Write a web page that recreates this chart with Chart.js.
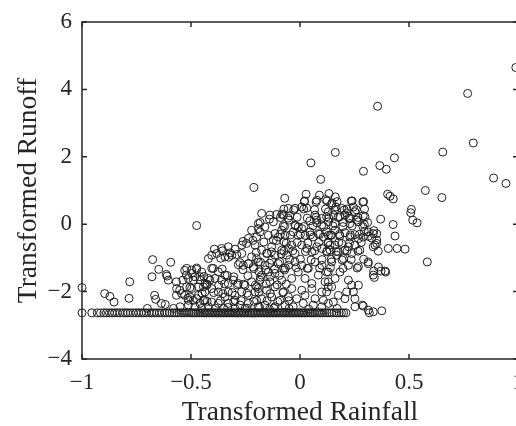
<!DOCTYPE html>
<html>
<head>
<meta charset="utf-8">
<script src="https://cdn.jsdelivr.net/npm/chart.js@4.4.1/dist/chart.umd.min.js"></script>
<style>
  html, body { margin: 0; padding: 0; background: #fff; overflow: hidden; }
  #wrap { width: 530px; height: 426px; }
</style>
</head>
<body>
<div id="wrap"><canvas id="scatter" width="530" height="426"></canvas></div>
<script>
// axis ranges and ticks
const xTicks = [-1, -0.5, 0, 0.5, 1];
const yTicks = [-4, -2, 0, 2, 4, 6];

// points, [rainfall, runoff]
const highPoints = [
  [0.99, 4.65], [0.769, 3.88], [0.356, 3.50], [0.795, 2.41], [0.655, 2.14], [0.162, 2.13],
  [0.433, 1.97], [0.05, 1.82], [0.366, 1.74], [0.396, 1.63], [0.291, 1.57], [0.095, 1.33],
  [0.888, 1.37], [0.945, 1.21], [-0.211, 1.09], [0.575, 1.00]
];

const upperPoints = [
  [0.651, 0.79], [-0.07, 0.77], [0.402, 0.89], [0.413, 0.83], [0.428, 0.75], [0.292, 0.67],
  [0.028, 0.89], [0.02, 0.67], [0.089, 0.86], [0.133, 0.91], [0.162, 0.81], [0.077, 0.71],
  [0.118, 0.73], [0.147, 0.63], [0.239, 0.69], [0.511, 0.44], [0.508, 0.34], [0.145, 0.58],
  [0.165, 0.51], [0.191, 0.47], [0.203, 0.42], [0.245, 0.51], [0.252, 0.37], [0.13, 0.37],
  [-0.176, 0.32], [-0.138, 0.27], [-0.107, 0.29], [-0.076, 0.27], [-0.054, 0.47], [-0.023, 0.47],
  [0.008, 0.51], [0.031, 0.48], [0.069, 0.27], [0.099, 0.17], [0.122, 0.22], [0.153, 0.27],
  [0.183, 0.22], [0.206, 0.27], [0.229, 0.17], [0.298, 0.22], [0.517, 0.12], [0.537, 0.04],
  [0.37, 0.15], [-0.083, 0.30], [-0.047, 0.25], [0.29, 0.25], [0.214, 0.33]
];

const zeroPoints = [
  [-0.191, 0.02], [-0.161, -0.08], [-0.183, 0.05], [-0.122, 0.07], [-0.077, -0.05], [-0.023, -0.03],
  [-0.008, -0.08], [0.008, -0.13], [0.077, 0.12], [0.077, 0.04], [0.1, -0.02], [0.13, 0.07],
  [0.16, 0.02], [0.199, 0.05], [0.229, 0.02], [0.268, 0.07], [0.295, -0.01], [0.427, -0.01],
  [0.045, 0.1], [-0.05, 0.12], [-0.14, 0.15], [0.26, 0.12], [0.31, 0.05], [-0.474, -0.04]
];

const midPoints = [
  [-0.183, -0.23], [-0.145, -0.33], [-0.115, -0.28], [-0.1, -0.38], [-0.122, -0.47], [-0.084, -0.18],
  [-0.069, -0.33], [-0.031, -0.23], [-0.008, -0.33], [0.023, -0.33], [0.046, -0.23], [0.061, -0.38],
  [0.084, -0.28], [0.107, -0.38], [0.13, -0.33], [-0.206, -0.62], [-0.176, -0.77], [-0.153, -0.87],
  [-0.13, -0.67], [-0.115, -0.92], [-0.084, -0.77], [-0.053, -0.72], [-0.038, -0.62], [-0.061, -0.92],
  [-0.023, -0.87], [0.008, -0.62], [0.031, -0.72], [0.054, -0.82], [0.077, -0.67], [0.1, -0.72],
  [0.122, -0.82], [0.138, -0.62], [0.122, -0.23], [0.145, -0.33], [0.161, -0.18], [0.183, -0.35],
  [0.206, -0.25], [0.229, -0.38], [0.252, -0.31], [0.268, -0.43], [0.13, -0.53], [0.161, -0.62],
  [0.191, -0.57], [0.222, -0.67], [0.252, -0.62], [0.275, -0.77], [0.138, -0.77], [0.176, -0.82],
  [0.206, -0.77], [0.237, -0.87], [0.339, -0.19], [0.352, -0.28], [0.313, -0.36], [0.329, -0.41],
  [0.295, -0.21], [0.436, -0.35], [0.313, -0.23], [0.336, -0.28], [0.29, -0.38], [0.352, -0.47],
  [0.352, -0.57], [0.344, -0.62], [0.359, -0.80], [0.405, -0.72], [0.445, -0.72], [0.482, -0.74],
  [0.336, -0.67], [-0.393, -0.74], [-0.359, -0.72], [-0.329, -0.67], [-0.298, -0.74], [-0.267, -0.62],
  [-0.245, -0.57], [-0.222, -0.18], [-0.199, -0.38], [-0.191, -0.13], [-0.237, -0.42], [-0.405, -0.92],
  [-0.344, -0.97], [-0.313, -0.92], [-0.29, -0.90], [-0.267, -0.87], [-0.222, -0.97], [-0.382, -0.87],
  [-0.355, -0.79], [-0.321, -0.85], [-0.42, -1.02]
];

// densest part of the cloud, read from close-ups
const corePoints = [
  [-0.261, -0.51], [-0.216, -0.48], [-0.166, -0.53], [-0.108, -0.49], [-0.074, -0.52],
  [-0.201, -0.84], [-0.151, -0.86], [-0.131, -0.82], [-0.086, -0.88],
  [-0.364, -1.01], [-0.327, -0.98], [-0.276, -1.14], [-0.235, -1.17], [-0.181, -1.13],
  [-0.139, -1.16], [-0.093, -1.12], [-0.357, -1.33], [-0.262, -1.35], [-0.212, -1.32],
  [-0.158, -1.36], [-0.117, -1.33], [-0.071, -1.36], [-0.441, -1.55], [-0.334, -1.52],
  [-0.304, -1.56], [-0.239, -1.53], [-0.181, -1.57], [-0.136, -1.55], [-0.094, -1.52],
  [-0.426, -1.78], [-0.373, -1.81], [-0.346, -1.77], [-0.288, -1.8], [-0.258, -1.78],
  [-0.204, -1.81], [-0.155, -1.77], [-0.105, -1.8], [-0.063, -1.78], [-0.449, -2.05],
  [-0.396, -2.03], [-0.354, -2.06], [-0.311, -2.03], [-0.243, -2.05], [-0.189, -2.02],
  [-0.136, -2.06], [-0.078, -2.03], [-0.426, -2.29], [-0.365, -2.27], [-0.304, -2.3],
  [-0.27, -2.27], [-0.212, -2.29], [-0.151, -2.27], [-0.102, -2.3], [-0.052, -2.27],
  [-0.388, -2.49], [-0.331, -2.47], [-0.243, -2.49], [-0.185, -2.47], [-0.12, -2.49],
  [0.021, 0.69], [0.074, 0.66], [0.124, 0.69], [0.17, 0.67], [0.235, 0.69], [0.288, 0.66],
  [-0.074, 0.45], [-0.029, 0.42], [0.017, 0.45], [0.067, 0.43], [0.117, 0.45], [0.159, 0.42],
  [0.216, 0.45], [0.258, 0.43], [0.296, 0.45], [-0.09, 0.2], [-0.055, 0.18], [-0.013, 0.21],
  [0.033, 0.18], [0.074, 0.2], [0.132, 0.18], [0.174, 0.2], [0.224, 0.18], [0.266, 0.2],
  [-0.071, -0.07], [-0.021, -0.05], [0.017, -0.07], [0.059, -0.05], [0.109, -0.07],
  [0.151, -0.05], [0.197, -0.07], [0.239, -0.05], [0.288, -0.07], [-0.09, -0.3],
  [-0.044, -0.32], [0.002, -0.3], [0.048, -0.32], [0.09, -0.3], [0.14, -0.32], [0.181, -0.3],
  [0.231, -0.32], [0.273, -0.3], [-0.063, -0.56], [-0.013, -0.54], [0.036, -0.56],
  [0.086, -0.54], [0.128, -0.56], [0.178, -0.54], [0.227, -0.56], [0.281, -0.54],
  [-0.074, -0.8], [-0.033, -0.79], [0.025, -0.81], [0.067, -0.79], [0.124, -0.8],
  [0.166, -0.81], [0.216, -0.79], [0.266, -0.8], [-0.048, -1.05], [0.002, -1.04],
  [0.051, -1.06], [0.101, -1.05], [0.143, -1.04], [0.193, -1.06], [0.235, -1.05],
  [0.292, -1.04], [-0.067, -1.3], [-0.017, -1.29], [0.033, -1.31], [0.09, -1.3],
  [0.14, -1.29], [0.197, -1.31], [0.262, -1.3]
];

const lowPoints = [
  [-0.191, -1.12], [-0.161, -1.22], [-0.13, -1.07], [-0.1, -1.17], [-0.145, -1.42], [-0.176, -1.51],
  [-0.115, -1.46], [-0.076, -1.31], [-0.053, -1.22], [-0.023, -1.12], [0.008, -1.22], [-0.008, -1.42],
  [0.038, -1.31], [0.069, -1.12], [0.1, -1.22], [0.122, -1.42], [0.084, -1.51], [0.023, -1.61],
  [-0.038, -1.61], [-0.084, -1.66], [-0.138, -1.71], [-0.183, -1.66], [0.054, -1.76], [0.115, -1.71],
  [0.168, -0.92], [0.199, -1.02], [0.145, -1.12], [0.13, -1.42], [0.183, -1.42], [0.268, -1.26],
  [0.222, -1.22], [0.161, -1.61], [0.13, -1.71], [0.222, -1.66], [0.313, -1.12], [0.36, -1.27],
  [0.39, -1.39], [0.336, -1.51], [0.338, -1.39], [0.372, -1.39], [0.393, -1.42], [0.341, -1.58],
  [0.584, -1.12], [0.313, -1.17], [-0.283, -1.20], [-0.260, -1.22], [-0.237, -1.17], [-0.214, -1.27],
  [-0.199, -1.02], [-0.188, -1.41], [-0.398, -1.31], [-0.375, -1.41], [-0.36, -1.66], [-0.39, -1.61],
  [-0.344, -1.51], [-0.329, -1.76], [-0.306, -1.66], [-0.283, -1.76], [-0.252, -1.81], [-0.222, -1.71],
  [-0.52, -1.31], [-0.497, -1.36], [-0.474, -1.30], [-0.451, -1.42], [-0.482, -1.56], [-0.512, -1.61],
  [-0.459, -1.66], [-0.436, -1.76], [-0.42, -1.61], [-0.676, -1.05], [-0.593, -1.13], [-0.648, -1.34],
  [-0.613, -1.49], [-0.679, -1.56], [-0.781, -1.71], [-0.567, -1.71], [-0.537, -1.66], [-0.521, -1.51],
  [-0.529, -1.37], [-0.61, -1.54], [-0.604, -1.66], [-0.497, -1.46], [-0.474, -1.34], [-0.459, -1.56],
  [-0.489, -1.66], [-0.405, -1.31], [-0.413, -1.66]
];

const bottomPoints = [
  [-0.191, -1.91], [-0.153, -1.96], [-0.115, -1.86], [-0.076, -2.01], [-0.038, -1.91], [0.008, -1.96],
  [0.054, -1.91], [0.1, -2.01], [0.13, -1.86], [-0.176, -2.21], [-0.13, -2.16], [-0.092, -2.26],
  [-0.053, -2.16], [-0.015, -2.21], [0.023, -2.11], [0.069, -2.21], [0.107, -2.26], [-0.161, -2.40],
  [-0.115, -2.45], [-0.069, -2.40], [-0.031, -2.45], [0.015, -2.35], [0.061, -2.40], [0.1, -2.45],
  [0.13, -2.35], [0.145, -1.86], [0.122, -2.01], [0.237, -1.81], [0.214, -2.01], [0.252, -2.21],
  [0.206, -2.21], [0.176, -2.11], [0.153, -2.31], [0.245, -2.01], [0.268, -1.81], [0.286, -2.40],
  [0.313, -2.55], [0.336, -2.60], [0.375, -2.57], [0.252, -2.45], [0.318, -2.63], [0.29, -2.43],
  [-0.268, -2.01], [-0.237, -2.11], [-0.206, -2.01], [-0.329, -2.01], [-0.298, -2.11], [-0.375, -2.01],
  [-0.344, -2.16], [-0.405, -1.91], [-0.436, -2.01], [-0.466, -1.86], [-0.497, -1.91], [-0.52, -1.86],
  [-0.528, -2.11], [-0.505, -2.16], [-0.474, -2.21], [-0.436, -2.26], [-0.405, -2.31], [-0.375, -2.35],
  [-0.329, -2.35], [-0.298, -2.26], [-0.275, -2.40], [-0.237, -2.35], [-0.199, -2.26], [-0.191, -2.45],
  [-0.512, -2.40], [-0.482, -2.45], [-0.451, -2.50], [-0.298, -2.50], [-0.252, -2.50], [-0.199, -1.86],
  [-1.0, -1.88], [-0.896, -2.06], [-0.872, -2.14], [-0.853, -2.31], [-0.784, -2.2], [-0.667, -2.11],
  [-0.662, -2.23], [-0.636, -2.35], [-0.618, -2.38], [-0.567, -2.11], [-0.552, -1.96], [-0.514, -2.2],
  [-0.566, -1.91], [-0.543, -2.06], [-0.505, -1.88], [-0.466, -2.11], [-0.443, -1.86], [-0.443, -2.26],
  [-0.459, -2.35], [-0.489, -2.26], [-0.512, -2.26], [-0.428, -1.81], [-0.70, -2.5], [-0.58, -2.5],
  [-0.55, -2.45], [-0.42, -2.45], [-0.35, -2.5], [-0.14, -2.52], [-0.05, -2.5], [0.04, -2.52], [0.17, -2.5]
];

// the flat row of censored values along the bottom
const floorRunoff = -2.63;
const floorRainfall = [
  -1.0, -0.955, -0.93, -0.915, -0.9, -0.888, -0.874, -0.862, -0.85, -0.838, -0.826, -0.812,
  -0.8, -0.79, -0.778, -0.765, -0.752, -0.74, -0.728, -0.716, -0.705, -0.692, -0.68, -0.669,
  -0.657, -0.645, -0.633, -0.62, -0.61, -0.598, -0.587, -0.576, -0.565, -0.555, -0.545, -0.536,
  -0.527, -0.518, -0.509, -0.5, -0.492, -0.484, -0.476, -0.468, -0.46, -0.452, -0.444, -0.437,
  -0.43, -0.422, -0.415, -0.408, -0.4, -0.393, -0.386, -0.379, -0.372, -0.365, -0.358, -0.351,
  -0.344, -0.337, -0.33, -0.323, -0.316, -0.309, -0.302, -0.295, -0.288, -0.281, -0.274, -0.267,
  -0.26, -0.253, -0.246, -0.239, -0.232, -0.225, -0.218, -0.211, -0.204, -0.197, -0.19, -0.183,
  -0.176, -0.169, -0.162, -0.155, -0.148, -0.141, -0.134, -0.127, -0.12, -0.113, -0.106, -0.099,
  -0.092, -0.085, -0.078, -0.071, -0.064, -0.057, -0.05, -0.043, -0.036, -0.029, -0.022, -0.015,
  -0.008, -0.001, 0.006, 0.013, 0.02, 0.028, 0.036, 0.044, 0.052, 0.06, 0.068, 0.077,
  0.086, 0.095, 0.104, 0.114, 0.124, 0.134, 0.145, 0.156, 0.168, 0.18, 0.19, 0.2, 0.211
];

const AXIS_COLOR = '#262626';
const SERIF = '"Liberation Serif", "Times New Roman", serif';

function toXY(list) {
  return list.map(p => ({ x: p[0], y: p[1] }));
}

const allPoints = []
  .concat(toXY(highPoints), toXY(upperPoints), toXY(zeroPoints), toXY(midPoints))
  .concat(toXY(corePoints), toXY(lowPoints), toXY(bottomPoints))
  .concat(floorRainfall.map(x => ({ x: x, y: floorRunoff })));

function minusSign(v) {
  return String(v).replace('-', '\u2212');
}

// MATLAB-like box: top/right lines plus inward tick marks
const boxPlugin = {
  id: 'boxAxes',
  afterDraw(chart) {
    const ctx = chart.ctx;
    const a = chart.chartArea;
    const xs = chart.scales.x, ys = chart.scales.y;
    const tick = 5;
    ctx.save();
    ctx.strokeStyle = AXIS_COLOR;
    ctx.lineWidth = 1.5;
    ctx.strokeRect(a.left, a.top, a.right - a.left, a.bottom - a.top);
    ctx.beginPath();
    xTicks.forEach(v => {
      const px = xs.getPixelForValue(v);
      ctx.moveTo(px, a.bottom); ctx.lineTo(px, a.bottom - tick);
      ctx.moveTo(px, a.top); ctx.lineTo(px, a.top + tick);
    });
    yTicks.forEach(v => {
      const py = ys.getPixelForValue(v);
      ctx.moveTo(a.left, py); ctx.lineTo(a.left + tick, py);
      ctx.moveTo(a.right, py); ctx.lineTo(a.right - tick, py);
    });
    ctx.stroke();
    ctx.restore();
  }
};

const ctx = document.getElementById('scatter').getContext('2d');
new Chart(ctx, {
  type: 'scatter',
  data: {
    datasets: [{
      label: 'Runoff vs Rainfall',
      data: allPoints,
      showLine: false,
      clip: false,
      pointStyle: 'circle',
      pointRadius: 4,
      pointHoverRadius: 4,
      pointBorderWidth: 1,
      pointBorderColor: '#1e1e1e',
      pointBackgroundColor: 'rgba(0,0,0,0)'
    }]
  },
  options: {
    responsive: false,
    animation: false,
    events: [],
    layout: { padding: { top: 22, right: 12, left: 0, bottom: 0 } },
    plugins: { legend: { display: false }, tooltip: { enabled: false } },
    scales: {
      x: {
        type: 'linear',
        min: -1, max: 1,
        afterBuildTicks(s) { s.ticks = xTicks.map(v => ({ value: v })); },
        afterFit(s) { s.height = 67; s.paddingLeft = 0; s.paddingRight = 0; },
        grid: { display: false, drawTicks: false },
        border: { display: false },
        ticks: {
          color: AXIS_COLOR,
          font: { family: SERIF, size: 23 },
          padding: 10,
          maxRotation: 0,
          callback: v => minusSign(v)
        },
        title: {
          display: true,
          text: 'Transformed Rainfall',
          color: AXIS_COLOR,
          font: { family: SERIF, size: 27.5 },
          padding: { top: 0, bottom: -3 }
        }
      },
      y: {
        type: 'linear',
        min: -4, max: 6,
        afterBuildTicks(s) { s.ticks = yTicks.map(v => ({ value: v })); },
        afterFit(s) { s.width = 82; s.paddingTop = 0; s.paddingBottom = 0; },
        grid: { display: false, drawTicks: false },
        border: { display: false },
        ticks: {
          color: AXIS_COLOR,
          font: { family: SERIF, size: 23 },
          padding: 10,
          callback: v => minusSign(v)
        },
        title: {
          display: true,
          text: 'Transformed Runoff',
          color: AXIS_COLOR,
          font: { family: SERIF, size: 27.5 },
          padding: { top: 12, bottom: 0 }
        }
      }
    }
  },
  plugins: [boxPlugin]
});
</script>
</body>
</html>
